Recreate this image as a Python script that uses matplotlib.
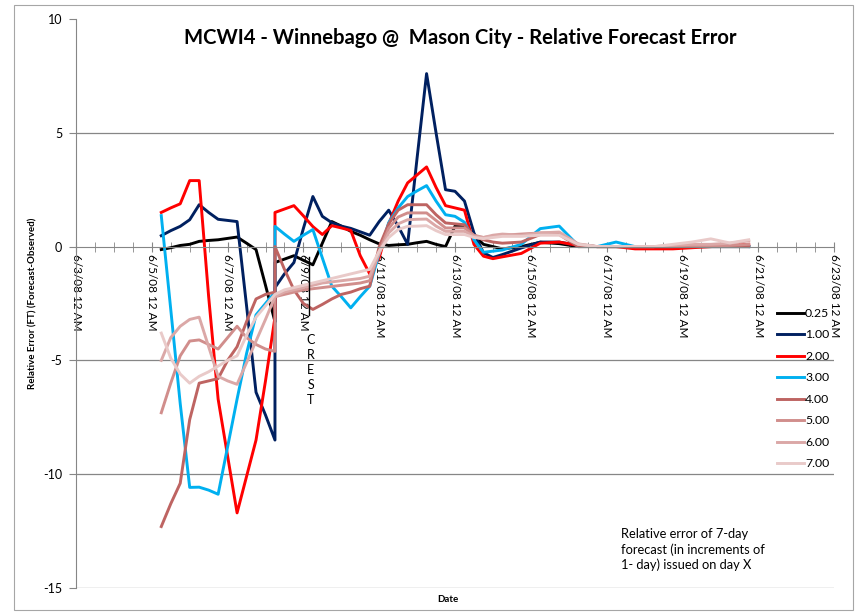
import matplotlib
matplotlib.use('Agg')
import matplotlib.pyplot as plt
import numpy as np
from matplotlib.patches import Rectangle

plt.rcParams['font.family'] = ['Lato', 'DejaVu Sans']

# forecast valid times, hours after 6/5/08 06:00 (72 h appears twice: forecast break)
hours = [0, 6, 12, 18, 24, 30, 36, 42, 48, 54, 60, 66, 72,
         72, 78, 84, 90, 96, 102, 108, 114, 120, 126, 132, 138, 144,
         150, 156, 162, 168, 174, 180, 186, 192, 198, 204, 210, 216,
         228, 240, 252, 264, 276, 288, 300, 312, 324, 336, 348, 360, 372]

s025 = [-0.13, -0.05, 0.05, 0.1, 0.23, 0.27, 0.3, 0.36, 0.42, 0.15, -0.13, -1.7, -3.3,
        -0.7, -0.55, -0.4, -0.6, -0.8, 0.15, 1.1, 0.9, 0.67, 0.5, 0.3, 0.12, 0.05,
        0.08, 0.1, 0.17, 0.23, 0.1, 0.0, 0.9, 0.9, 0.5, 0.1, 0.0, -0.1,
        0.0, 0.19, 0.13, 0.0, 0.0, 0.0, 0.0, 0.0, 0.0, 0.0, 0.0, 0.0, 0.0]
s100 = [0.48, 0.7, 0.89, 1.18, 1.84, 1.5, 1.2, 1.15, 1.1, -2.6, -6.4, -7.4, -8.5,
        -1.8, -1.2, -0.7, 0.8, 2.2, 1.33, 1.05, 0.9, 0.8, 0.65, 0.5, 1.1, 1.6,
        0.9, 0.1, 3.9, 7.6, 5.0, 2.5, 2.43, 2.0, 0.6, -0.27, -0.48, -0.35,
        -0.06, 0.2, 0.2, 0.05, 0.0, 0.0, 0.0, 0.0, 0.0, 0.0, 0.0, 0.0, 0.0]
s200 = [1.5, 1.7, 1.88, 2.9, 2.9, -2.2, -6.7, -9.2, -11.7, -10.1, -8.5, -5.9, -3.1,
        1.5, 1.65, 1.8, 1.35, 0.88, 0.53, 0.92, 0.82, 0.71, -0.4, -1.2, -0.5, 1.0,
        2.0, 2.8, 3.15, 3.5, 2.6, 1.8, 1.7, 1.6, 0.1, -0.42, -0.53, -0.45,
        -0.3, 0.15, 0.2, 0.05, 0.0, 0.0, -0.1, -0.1, -0.1, -0.05, 0.0, 0.05, 0.1]
s300 = [1.36, -2.76, -6.9, -10.58, -10.57, -10.7, -10.88, -8.8, -6.7, -4.7, -3.0, -2.5, -2.0,
        0.89, 0.55, 0.23, 0.5, 0.75, -0.5, -1.74, -2.2, -2.69, -2.2, -1.74, -0.3, 1.05,
        1.7, 2.2, 2.45, 2.68, 2.0, 1.4, 1.33, 1.07, 0.3, -0.25, -0.2, -0.15,
        0.1, 0.79, 0.9, 0.05, 0.0, 0.2, 0.0, 0.0, 0.0, 0.05, 0.05, 0.05, 0.0]
s400 = [-12.3, -11.3, -10.4, -7.6, -6.0, -5.9, -5.8, -5.0, -4.4, -3.3, -2.3, -2.1, -2.0,
        0.0, -1.0, -1.9, -2.5, -2.76, -2.54, -2.3, -2.1, -2.0, -1.85, -1.74, 0.0, 1.0,
        1.6, 1.84, 1.84, 1.84, 1.4, 1.04, 1.0, 0.96, 0.45, 0.3, 0.2, 0.15,
        0.2, 0.53, 0.53, 0.0, 0.0, 0.0, 0.0, 0.0, 0.0, 0.0, 0.0, 0.0, 0.0]
s500 = [-7.3, -6.0, -4.8, -4.15, -4.1, -4.3, -4.5, -4.0, -3.5, -4.0, -4.3, -4.5, -4.6,
        -2.2, -2.1, -2.0, -1.9, -1.85, -1.8, -1.75, -1.7, -1.65, -1.6, -1.5, -0.2, 0.8,
        1.3, 1.48, 1.48, 1.48, 1.15, 0.82, 0.82, 0.82, 0.5, 0.4, 0.45, 0.5,
        0.55, 0.6, 0.6, 0.1, 0.0, 0.0, 0.0, 0.0, 0.0, 0.0, 0.0, 0.05, 0.1]
s600 = [-5.0, -4.0, -3.5, -3.2, -3.1, -4.4, -5.7, -5.9, -6.05, -5.1, -4.15, -3.2, -2.2,
        -2.2, -2.0, -1.9, -1.8, -1.7, -1.6, -1.55, -1.5, -1.45, -1.4, -1.3, -0.3, 0.6,
        1.0, 1.18, 1.2, 1.21, 0.9, 0.67, 0.67, 0.67, 0.45, 0.4, 0.5, 0.55,
        0.5, 0.6, 0.64, 0.12, 0.0, 0.0, 0.0, 0.0, 0.05, 0.1, 0.1, 0.15, 0.25]
s700 = [-3.8, -4.9, -5.6, -6.0, -5.7, -5.5, -5.25, -5.0, -4.8, -3.9, -3.1, -2.6, -2.1,
        -2.1, -1.9, -1.8, -1.7, -1.6, -1.5, -1.4, -1.3, -1.2, -1.1, -1.0, -0.2, 0.4,
        0.75, 0.89, 0.9, 0.92, 0.7, 0.53, 0.53, 0.53, 0.4, 0.35, 0.4, 0.45,
        0.45, 0.5, 0.5, 0.1, 0.0, 0.0, 0.0, 0.0, 0.1, 0.2, 0.34, 0.16, 0.3]

series_labels = ['0.25', '1.00', '2.00', '3.00', '4.00', '5.00', '6.00', '7.00']
series_values = [s025, s100, s200, s300, s400, s500, s600, s700]
series_colors = ['#000000', '#002060', '#FF0000', '#00B0F0',
                 '#BE6462', '#D18E8C', '#DBA8A7', '#E9CAC9']

tick_labels = ['6/3/08 12 AM', '6/5/08 12 AM', '6/7/08 12 AM', '6/9/08 12 AM',
               '6/11/08 12 AM', '6/13/08 12 AM', '6/15/08 12 AM', '6/17/08 12 AM',
               '6/19/08 12 AM', '6/21/08 12 AM', '6/23/08 12 AM']

W, H = 855, 614
fig = plt.figure(figsize=(W / 100, H / 100), dpi=100)
fig.patches.append(Rectangle((14 / W, 1 - 610 / H), (853 - 14) / W, (610 - 5) / H,
                             transform=fig.transFigure, fill=False,
                             edgecolor='#A6A6A6', lw=0.8))

ax = fig.add_axes([76 / W, 1 - 588 / H, (834 - 76) / W, (588 - 19) / H])
x_days = 2.25 + np.array(hours) / 24.0  # days after 6/3/08 00:00

for lab, vals, col in zip(series_labels, series_values, series_colors):
    ax.plot(x_days, vals, color=col, lw=2.1, label=lab, solid_joinstyle='round')

ax.set_xlim(0, 20)
ax.set_ylim(-15, 10)
gray = '#868686'
for s in ['top', 'right']:
    ax.spines[s].set_visible(False)
ax.spines['left'].set_color(gray)
ax.spines['bottom'].set_color(gray)
ax.spines['bottom'].set_position(('data', 0))
ax.set_yticks([-15, -10, -5, 0, 5, 10])
ax.set_yticklabels(['-15', '-10', '-5', '0', '5', '10'])
for gv in [-15, -10, -5, 5]:
    ax.axhline(gv, color=gray, lw=0.9, zorder=0.5)
ax.tick_params(axis='y', direction='out', length=5, color=gray, labelsize=9, pad=5)
ax.set_xticks(np.arange(0, 21, 2))
ax.set_xticklabels(tick_labels, rotation=-90, fontsize=8.5)
ax.set_xticks(np.arange(0, 20.01, 0.5), minor=True)
ax.tick_params(axis='x', which='both', direction='inout', length=7, color=gray, pad=2)

# crest marker
crest_day = 6.14
ax.plot([crest_day, crest_day], [-0.45, -3.0], color='black', lw=1)
ax.text(crest_day + 0.05, -3.85, 'C\nR\nE\nS\nT', fontsize=9, va='top', ha='center',
        linespacing=1.3)

fig.text(460 / W, 1 - 38 / H, 'MCWI4 - Winnebago @  Mason City - Relative Forecast Error',
         ha='center', va='center', fontsize=14.6, fontweight='bold')
fig.text(33 / W, 1 - 303 / H, 'Relative Error (FT) (Forecast-Observed)', rotation=90,
         ha='center', va='center', fontsize=7, fontweight='bold')
fig.text(448 / W, 1 - 600 / H, 'Date', ha='center', va='center', fontsize=7,
         fontweight='bold')
fig.text(621 / W, 1 - 528 / H,
         'Relative error of 7-day\nforecast (in increments of\n1- day) issued on day X',
         ha='left', va='top', fontsize=9.3, linespacing=1.3)

leg = ax.legend(loc='upper left', bbox_to_anchor=(772 / W, 1 - 303 / H),
                bbox_transform=fig.transFigure, frameon=False, fontsize=8.8,
                handlelength=2.2, handletextpad=0.1, labelspacing=0.86,
                borderaxespad=0)

fig.savefig('out.png', dpi=100)
